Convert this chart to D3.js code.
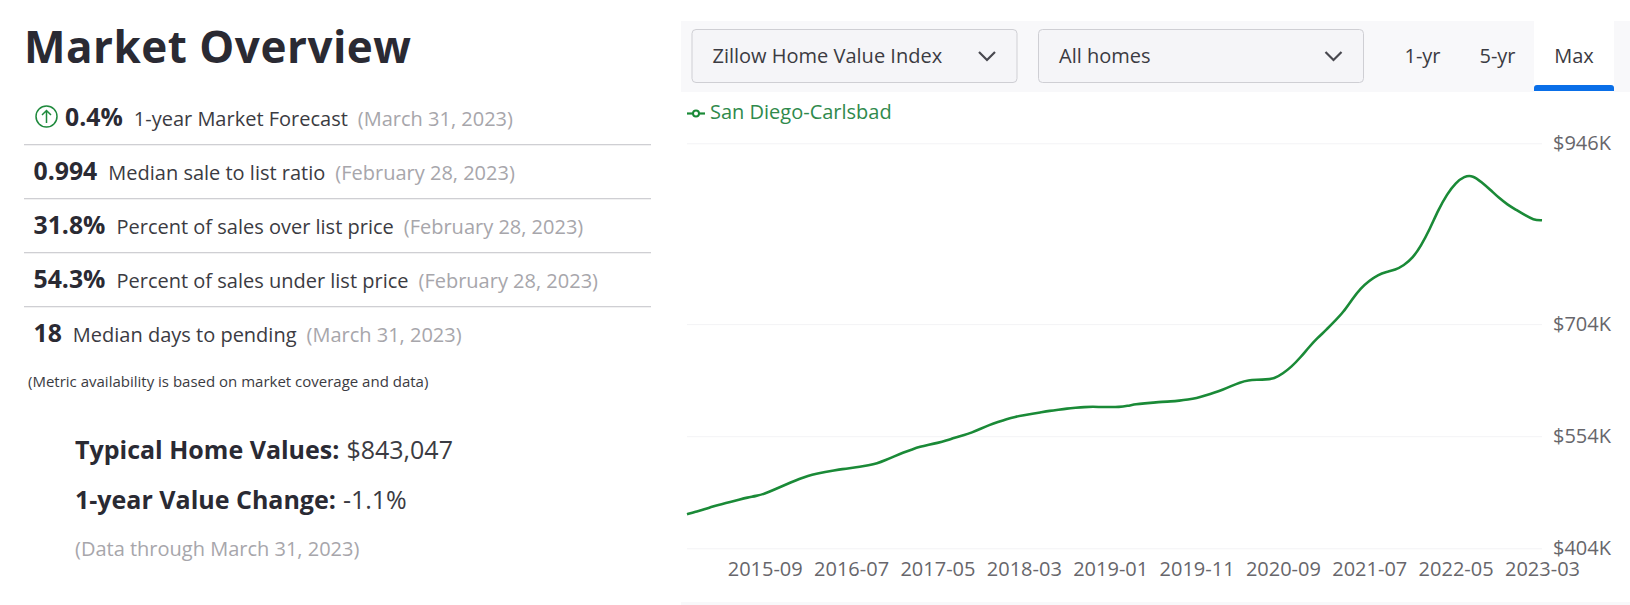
<!DOCTYPE html>
<html>
<head>
<meta charset="utf-8">
<script src="https://cdnjs.cloudflare.com/ajax/libs/d3/7.8.5/d3.min.js"></script>
<style>
  body { margin: 0; background: #fff; overflow: hidden; }
  text { font-family: "Open Sans", sans-serif; }
  .grid line { stroke: #f3f3f5; stroke-width: 1; }
  .axis text { fill: #67666b; font-size: 20px; }
  .value { font-weight: 700; fill: #2a2a33; }
  .label { fill: #3b3b42; }
  .date { fill: #a7a6ab; }
</style>
</head>
<body>
<div class="chart"></div>
<script>
// Define Chart Sizes
const w = 1630;
const h = 605;
const margin = { top: 143.3, right: 88, bottom: 56.7, left: 687 };

// Chart Data ($K by month, starts 2014-12)
const homeValues = [
  449.5, 453, 456, 460, 463, 466, 469, 472, 474, 477,
  482, 487, 492, 497, 501, 504, 506, 508, 510, 511.5,
  513, 515, 517.5, 522, 527, 532, 536, 540, 542.5, 545,
  548, 552, 555, 559, 564, 569, 573, 577, 580, 582,
  584, 586, 588, 589.5, 591, 592, 593, 593.5, 593, 593,
  593, 594.5, 597, 598, 599, 600, 600.5, 601.5, 603, 605,
  608.5, 612, 616, 621, 626, 629, 629.5, 630, 631, 638,
  647, 659, 673, 685.5, 696, 708, 720, 737, 752, 762,
  770, 774, 776.5, 782.6, 792, 809, 831, 857, 878, 893,
  902, 903, 894, 884, 873, 864, 857, 850, 843.5, 843
];
const xTickLabels = ["2015-09", "2016-07", "2017-05", "2018-03", "2019-01", "2019-11", "2020-09", "2021-07", "2022-05", "2023-03"];
const yTicks = [404, 554, 704, 946];

// Left Panel Text
const metricValues = ["0.4%", "0.994", "31.8%", "54.3%", "18"];
const metricLabels = ["1-year Market Forecast", "Median sale to list ratio", "Percent of sales over list price", "Percent of sales under list price", "Median days to pending"];
const metricDates = ["(March 31, 2023)", "(February 28, 2023)", "(February 28, 2023)", "(February 28, 2023)", "(March 31, 2023)"];

// Add Main Svg
const svg = d3
  .select(".chart")
  .append("svg")
  .attr("width", w)
  .attr("height", h);

// LEFT PANEL //

svg
  .append("text")
  .text("Market Overview")
  .attr("x", 24)
  .attr("y", 62.5)
  .attr("font-size", 44)
  .attr("font-weight", 700)
  .attr("letter-spacing", 0.5)
  .attr("fill", "#2a2a33");

// Metric Rows
const rows = svg
  .selectAll(".metric")
  .data(metricValues)
  .enter()
  .append("text")
  .attr("class", "metric")
  .attr("x", (d, i) => (i === 0 ? 65 : 33.5))
  .attr("y", (d, i) => 125.5 + i * 54);

rows.append("tspan").attr("class", "value").attr("font-size", 24.8).text((d) => d);
rows
  .append("tspan")
  .attr("class", "label")
  .attr("font-size", 20)
  .attr("dx", 11)
  .text((d, i) => metricLabels[i]);
rows
  .append("tspan")
  .attr("class", "date")
  .attr("font-size", 20)
  .attr("dx", 10)
  .text((d, i) => metricDates[i]);

// Row Separators
svg
  .selectAll(".sep")
  .data(metricValues.slice(0, 4))
  .enter()
  .append("rect")
  .attr("class", "sep")
  .attr("x", 24)
  .attr("width", 627)
  .attr("y", (d, i) => 144 + i * 54)
  .attr("height", 1.3)
  .attr("fill", "#cfcfd3");

// Forecast Up Arrow Icon
const icon = svg.append("g").attr("transform", "translate(46.5, 116.5)");
icon.append("circle").attr("r", 10.5).attr("fill", "none").attr("stroke", "#1f8a3d").attr("stroke-width", 1.5);
icon
  .append("path")
  .attr("d", "M0,6.5V-6M-4.5,-1.5L0,-6L4.5,-1.5")
  .attr("fill", "none")
  .attr("stroke", "#1f8a3d")
  .attr("stroke-width", 1.5);

svg
  .append("text")
  .text("(Metric availability is based on market coverage and data)")
  .attr("x", 28)
  .attr("y", 386.5)
  .attr("font-size", 15)
  .attr("fill", "#3b3b42");

// Summary Lines
const typical = svg.append("text").attr("x", 75).attr("y", 459).attr("font-size", 25);
typical.append("tspan").attr("class", "value").text("Typical Home Values:");
typical.append("tspan").attr("class", "label").attr("dx", 7).text("$843,047");

const change = svg.append("text").attr("x", 75).attr("y", 509).attr("font-size", 25);
change.append("tspan").attr("class", "value").text("1-year Value Change:");
change.append("tspan").attr("class", "label").attr("dx", 7).text("-1.1%");

svg
  .append("text")
  .attr("class", "date")
  .text("(Data through March 31, 2023)")
  .attr("x", 75)
  .attr("y", 555.5)
  .attr("font-size", 20);

// CONTROLS //

svg.append("rect").attr("x", 681).attr("y", 21).attr("width", 949).attr("height", 71).attr("fill", "#f8f8fa");
svg.append("rect").attr("x", 681).attr("y", 602).attr("width", 949).attr("height", 3).attr("fill", "#f8f8fa");

const dropdowns = [
  { text: "Zillow Home Value Index", x: 692, width: 325 },
  { text: "All homes", x: 1038.5, width: 325 }
];

dropdowns.forEach((d) => {
  svg
    .append("rect")
    .attr("x", d.x)
    .attr("y", 29.5)
    .attr("width", d.width)
    .attr("height", 53)
    .attr("rx", 4)
    .attr("fill", "#f5f5f8")
    .attr("stroke", "#cfcfd4");
  svg
    .append("text")
    .text(d.text)
    .attr("x", d.x + 20.5)
    .attr("y", 63)
    .attr("font-size", 20)
    .attr("fill", "#3b3b42");
  svg
    .append("path")
    .attr("d", `M${d.x + 287},52L${d.x + 295},60L${d.x + 303},52`)
    .attr("fill", "none")
    .attr("stroke", "#48484f")
    .attr("stroke-width", 2.2);
});

// Range Tabs
svg.append("rect").attr("x", 1534).attr("y", 21).attr("width", 80).attr("height", 71).attr("fill", "#fff");
svg.append("path").attr("d", "M1534,91V88a3,3 0 0 1 3,-3H1611a3,3 0 0 1 3,3V91Z").attr("fill", "#0a6fe8");

[["1-yr", 1422.5], ["5-yr", 1497.5], ["Max", 1574]].forEach(([t, x]) => {
  svg
    .append("text")
    .text(t)
    .attr("x", x)
    .attr("y", 63)
    .attr("text-anchor", "middle")
    .attr("font-size", 20)
    .attr("fill", "#3b3b42");
});

// Legend
svg.append("line").attr("x1", 687).attr("x2", 705).attr("y1", 113.5).attr("y2", 113.5).attr("stroke", "#1a8a37").attr("stroke-width", 2.2);
svg.append("circle").attr("cx", 696).attr("cy", 113.5).attr("r", 3).attr("fill", "#fff").attr("stroke", "#1a8a37").attr("stroke-width", 2);
svg.append("text").text("San Diego-Carlsbad").attr("x", 710).attr("y", 119).attr("font-size", 20).attr("fill", "#2f8a4c");

// SCALES //

const months = d3
  .utcMonths(new Date(Date.UTC(2014, 11, 1)), new Date(Date.UTC(2023, 3, 1)))
  .map(d3.utcFormat("%Y-%m"));

const xScale = d3.scalePoint().domain(months).range([margin.left, w - margin.right]);
const yScale = d3.scaleLinear().domain([404, 946]).range([h - margin.bottom, margin.top]);

// AXIS //

const yAxis = svg
  .append("g")
  .attr("class", "axis grid")
  .attr("transform", `translate(${w - margin.right}, 0)`)
  .call(
    d3
      .axisRight(yScale)
      .tickValues(yTicks)
      .tickFormat((d) => `$${d}K`)
      .tickSize(-(w - margin.left - margin.right))
      .tickPadding(11)
  );
yAxis.select(".domain").remove();

const xAxis = svg
  .append("g")
  .attr("class", "axis")
  .attr("transform", `translate(0, ${h - margin.bottom})`)
  .call(d3.axisBottom(xScale).tickValues(xTickLabels).tickSize(0).tickPadding(14));
xAxis.select(".domain").remove();

// LINE //

const line = d3
  .line()
  .x((d, i) => xScale(months[i]))
  .y((d) => yScale(d))
  .curve(d3.curveBasis);

svg
  .append("path")
  .datum(homeValues)
  .attr("d", line)
  .attr("fill", "none")
  .attr("stroke", "#1a8a37")
  .attr("stroke-width", 2.6);
</script>
</body>
</html>
